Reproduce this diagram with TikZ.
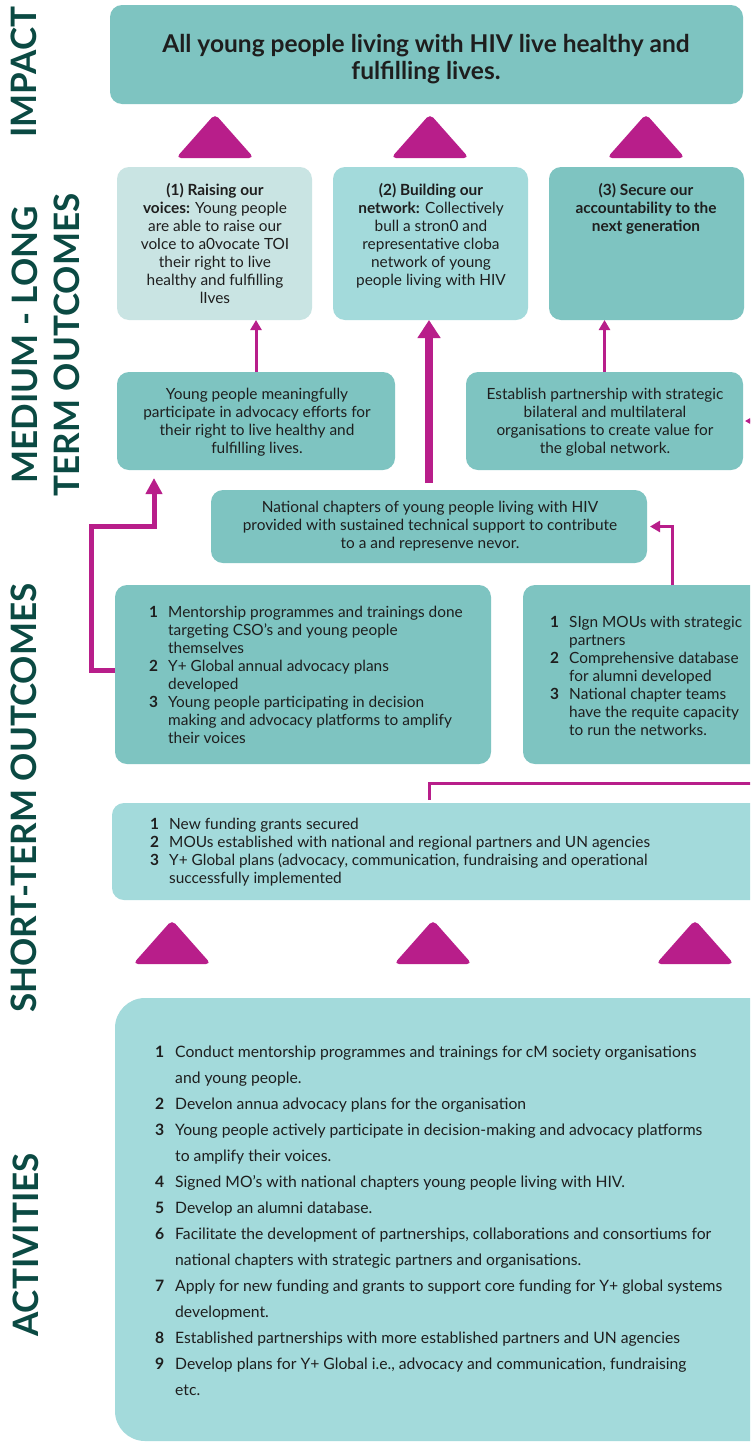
\documentclass[tikz,border=0pt]{standalone}
\usepackage{fontspec}
\setmainfont{Lato}
\usetikzlibrary{arrows.meta}
\definecolor{tealD}{HTML}{7EC4C1}
\definecolor{tealM}{HTML}{A3DADB}
\definecolor{tealL}{HTML}{C9E4E3}
\definecolor{mag}{HTML}{B81E8A}
\definecolor{lab}{HTML}{0B4A43}
\definecolor{ink}{HTML}{1E1E1E}
\newcommand{\nm}[1]{\makebox[19pt][l]{\textbf{#1}}}
\newcommand{\ind}{\hspace*{19pt}}
\newcommand{\anm}[1]{\makebox[20pt][l]{\textbf{#1}}}
\newcommand{\aind}{\hspace*{20pt}}
\tikzset{
 box/.style={rounded corners=12pt, inner sep=0pt, outer sep=0pt, anchor=north west, draw=none},
 txt/.style={inner sep=0pt, text=ink, font=\fontsize{15.4}{18}\selectfont},
 acttxt/.style={inner sep=0pt, text=ink, font=\fontsize{15.7}{26}\selectfont},
 sidelab/.style={rotate=90, text=lab, font=\fontsize{35}{42}\selectfont\bfseries, inner sep=0pt},
 thinarrow/.style={draw=mag, line width=3pt, -{Triangle[width=11pt,length=10pt]}},
 midarrow/.style={draw=mag, line width=5pt, -{Triangle[width=16pt,length=16pt]}},
 thickarrow/.style={draw=mag, line width=8pt, -{Triangle[width=22pt,length=18pt]}},
 thinline/.style={draw=mag, line width=3pt},
 tri/.style={fill=mag, rounded corners=5pt},
}
\begin{document}
\begin{tikzpicture}[x=1pt,y=-1pt]
\useasboundingbox (0,0) rectangle (750,1443);
\clip (0,0) rectangle (750,1443);
\fill[white] (0,0) rectangle (750,1443);

% side labels
\node[sidelab] (limp) at (24,72) {IMPACT};
\node[sidelab, align=center] (lmed) at (46,345) {MEDIUM - LONG\\TERM OUTCOMES};
\node[sidelab] (lsht) at (24,798) {SHORT-TERM OUTCOMES};
\node[sidelab] (lact) at (26,1245) {ACTIVITIES};

% impact
\node[box, fill=tealD, minimum width=633pt, minimum height=99pt] (imp) at (110,5) {};
\node[inner sep=0pt, text=ink, font=\fontsize{24.5}{27}\selectfont\bfseries, anchor=base] (impt) at (426,52)
 {\begin{tabular}[t]{@{}c@{}}All young people living with HIV live healthy and\\fulfilling lives.\end{tabular}};

% top triangles
\fill[tri] (176,158) -- (215,114) -- (254,158) -- cycle;
\fill[tri] (391,158) -- (430,114) -- (469,158) -- cycle;
\fill[tri] (607,158) -- (646,114) -- (685,158) -- cycle;

% medium-long row 1
\node[box, fill=tealL, minimum width=195pt, minimum height=153pt] (m1) at (117,167) {};
\node[box, fill=tealM, minimum width=195pt, minimum height=153pt] (m2) at (333,167) {};
\node[box, fill=tealD, minimum width=195pt, minimum height=153pt] (m3) at (549,167) {};
\node[txt, anchor=base] (m1t) at (215,195) {\begin{tabular}[t]{@{}c@{}}\textbf{(1) Raising our}\\\textbf{voices:} Young people\\are able to raise our\\voIce to a0vocate TOI\\their right to live\\healthy and fulfilling\\lIves\end{tabular}};
\node[txt, anchor=base] (m2t) at (431,195) {\begin{tabular}[t]{@{}c@{}}\textbf{(2) Building our}\\\textbf{network:} Collectively\\bull a stron0 and\\representative cloba\\network of young\\people living with HIV\end{tabular}};
\node[txt, anchor=base] (m3t) at (646,195) {\begin{tabular}[t]{@{}c@{}}\textbf{(3) Secure our}\\\textbf{accountability to the}\\\textbf{next generation}\end{tabular}};

% medium-long row 2
\node[box, fill=tealD, minimum width=278pt, minimum height=98pt] (mL) at (117,372) {};
\node[box, fill=tealD, minimum width=277pt, minimum height=98pt] (mR) at (466,372) {};
\node[txt, anchor=base] (mLt) at (257,399) {\begin{tabular}[t]{@{}c@{}}Young people meaningfully\\participate in advocacy efforts for\\their right to live healthy and\\fulfilling lives.\end{tabular}};
\node[txt, anchor=base] (mRt) at (605,399) {\begin{tabular}[t]{@{}c@{}}Establish partnership with strategic\\bilateral and multilateral\\organisations to create value for\\the global network.\end{tabular}};

% national chapters
\node[box, fill=tealD, minimum width=436pt, minimum height=73pt] (nat) at (211,490) {};
\node[txt, anchor=base] (natt) at (430,512) {\begin{tabular}[t]{@{}c@{}}National chapters of young people living with HIV\\provided with sustained technical support to contribute\\to a and represenve nevor.\end{tabular}};

% short-term row 1
\node[box, fill=tealD, minimum width=376pt, minimum height=179pt] (s1) at (115,585) {};
\node[box, fill=tealD, minimum width=260pt, minimum height=179pt] (s2) at (523,585) {};
\node[txt, anchor=base west] (s1t) at (149,617) {\begin{tabular}[t]{@{}l@{}}\nm{1}Mentorship programmes and trainings done\\\ind targeting CSO’s and young people\\\ind themselves\\\nm{2}Y+ Global annual advocacy plans\\\ind developed\\\nm{3}Young people participating in decision\\\ind making and advocacy platforms to amplify\\\ind their voices\end{tabular}};
\node[txt, anchor=base west] (s2t) at (550,627) {\begin{tabular}[t]{@{}l@{}}\nm{1}SIgn MOUs with strategic\\\ind partners\\\nm{2}Comprehensive database\\\ind for alumni developed\\\nm{3}National chapter teams\\\ind have the requite capacity\\\ind to run the networks.\end{tabular}};

% short-term row 2
\node[box, fill=tealM, minimum width=670pt, minimum height=97pt] (f) at (112,803) {};
\node[txt, anchor=base west] (ft) at (150,829) {\begin{tabular}[t]{@{}l@{}}\nm{1}New funding grants secured\\\nm{2}MOUs established with national and regional partners and UN agencies\\\nm{3}Y+ Global plans (advocacy, communication, fundraising and operational\\\ind successfully implemented\end{tabular}};

% bottom triangles
\fill[tri] (133,964) -- (172,920) -- (211,964) -- cycle;
\fill[tri] (394,964) -- (433,920) -- (472,964) -- cycle;
\fill[tri] (656,964) -- (695,920) -- (734,964) -- cycle;

% activities
\node[box, rounded corners=30pt, fill=tealM, minimum width=690pt, minimum height=443pt] (act) at (115,998) {};
\node[acttxt, anchor=base west] (actt) at (155,1057) {\begin{tabular}[t]{@{}l@{}}\anm{1}Conduct mentorship programmes and trainings for cM society organisations\\\aind and young people.\\\anm{2}Develon annua advocacy plans for the organisation\\\anm{3}Young people actively participate in decision-making and advocacy platforms\\\aind to amplify their voices.\\\anm{4}Signed MO’s with national chapters young people living with HIV.\\\anm{5}Develop an alumni database.\\\anm{6}Facilitate the development of partnerships, collaborations and consortiums for\\\aind national chapters with strategic partners and organisations.\\\anm{7}Apply for new funding and grants to support core funding for Y+ global systems\\\aind development.\\\anm{8}Established partnerships with more established partners and UN agencies\\\anm{9}Develop plans for Y+ Global i.e., advocacy and communication, fundraising\\\aind etc.\end{tabular}};

% connectors
\draw[thinarrow] (mL.north) -- (mL.north |- m1.south);
\draw[thinarrow] (mR.north) -- (mR.north |- m3.south);
\draw[thickarrow] ([yshift=7pt]nat.north) -- (nat.north |- m2.south);
\coordinate (rk) at (775,421);
\draw[thinarrow] (rk) -- ([xshift=2pt]mR.east);
\coordinate (lk0) at (115,670);
\coordinate (lk1) at (91,526);
\coordinate (lk2) at (154,478);
\draw[midarrow] (lk0) -| (lk1) -| (lk2);
\coordinate (nk) at (672,585);
\draw[thinarrow] (nk) |- ([xshift=3pt]nat.east);
\coordinate (fk) at (429,800);
\coordinate (fk2) at (775,783);
\draw[thinline] (fk) |- (fk2);
\end{tikzpicture}
\end{document}
